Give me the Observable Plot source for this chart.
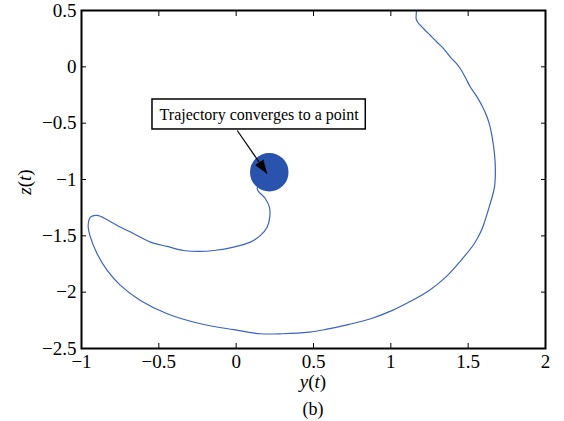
<!DOCTYPE html>
<html><head><meta charset="utf-8">
<script src="https://cdn.jsdelivr.net/npm/d3@7"></script>
<script src="https://cdn.jsdelivr.net/npm/@observablehq/plot@0.6"></script>
<style>
body{margin:0;background:#fff}
</style>
</head><body><div id="chart"></div>
<script>
// trajectory (y(t), z(t))
const trajY = [1.166,1.164,1.164,1.174,1.211,1.256,1.301,1.342,1.385,1.418,1.450,1.482,1.515,1.558,1.592,1.623,1.641,1.655,1.670,1.676,1.670,1.650,1.629,1.605,1.581,1.539,1.463,1.355,1.248,1.118,1.010,0.870,0.731,0.579,0.472,0.299,0.157,-0.016,-0.231,-0.446,-0.619,-0.748,-0.834,-0.899,-0.946,-0.957,-0.942,-0.899,-0.834,-0.769,-0.662,-0.554,-0.446,-0.339,-0.231,-0.145,-0.016,0.092,0.157,0.200,0.217,0.215,0.189,0.136,0.175,0.214];
const trajZ = [0.500,0.465,0.426,0.396,0.340,0.278,0.216,0.160,0.086,0.039,-0.017,-0.095,-0.181,-0.269,-0.352,-0.447,-0.529,-0.624,-0.769,-0.920,-1.068,-1.180,-1.275,-1.381,-1.467,-1.570,-1.703,-1.867,-1.985,-2.088,-2.162,-2.236,-2.286,-2.331,-2.355,-2.369,-2.369,-2.333,-2.280,-2.191,-2.073,-1.940,-1.807,-1.659,-1.496,-1.408,-1.334,-1.319,-1.357,-1.408,-1.481,-1.556,-1.594,-1.630,-1.638,-1.630,-1.600,-1.556,-1.496,-1.423,-1.334,-1.245,-1.171,-1.082,-1.000,-0.935];
// limit point (dense spiral region)
const limitY = [0.214];
const limitZ = [-0.935];
// annotation
const noteText = ["Trajectory converges to a point"];
const noteBoxY = [-0.541, 0.838];
const noteBoxZ = [-0.29, -0.556];
const arrowFromTo = [[0.007, -0.565], [0.200, -0.949]];
// ticks
const xTicks = [-1, -0.5, 0, 0.5, 1, 1.5, 2];
const yTicks = [-2.5, -2, -1.5, -1, -0.5, 0, 0.5];
const fmt = d => (d < 0 ? "\u2212" : "") + Math.abs(d);

const lineColor = "#3a63c4";
const blobColor = "#2953ac";

const traj = trajY.map((v, i) => ({y: v, z: trajZ[i]}));
const limit = limitY.map((v, i) => ({y: v, z: limitZ[i]}));

const filledArrow = (color) => {
  const m = d3.create("svg:marker")
    .attr("viewBox", "-5 -5 10 10")
    .attr("markerUnits", "userSpaceOnUse")
    .attr("markerWidth", 14)
    .attr("markerHeight", 14)
    .attr("refX", 5)
    .attr("orient", "auto")
    .attr("fill", "black")
    .attr("stroke", "none");
  m.append("path").attr("d", "M-5,-3.6L5,0L-5,3.6Z");
  return m.node();
};

const chart = Plot.plot({
  width: 564, height: 421,
  marginLeft: 81, marginRight: 19, marginTop: 10, marginBottom: 73,
  x: {domain: [-1, 2]},
  y: {domain: [-2.5, 0.5]},
  style: {fontFamily: "Liberation Serif, Times New Roman, serif", fontSize: "19px", color: "black", background: "white"},
  marks: [
    Plot.line(traj, {x: "y", y: "z", stroke: lineColor, strokeWidth: 1.2, curve: "catmull-rom"}),
    Plot.dot(limit, {x: "y", y: "z", r: 18.5, fill: blobColor, stroke: blobColor}),
    Plot.rect([0], {x1: () => noteBoxY[0], x2: () => noteBoxY[1], y1: () => noteBoxZ[0], y2: () => noteBoxZ[1], fill: "white", stroke: "black", strokeWidth: 1.5}),
    Plot.text(noteText, {x: (noteBoxY[0] + noteBoxY[1]) / 2, y: (noteBoxZ[0] + noteBoxZ[1]) / 2, text: d => d, fontSize: 16, fill: "black"}),
    Plot.link([arrowFromTo], {x1: d => d[0][0], y1: d => d[0][1], x2: d => d[1][0], y2: d => d[1][1], stroke: "black", strokeWidth: 1.2, markerEnd: filledArrow}),
    Plot.axisX({anchor: "bottom", ticks: xTicks, tickFormat: fmt, tickSize: -5, tickPadding: 11, label: null}),
    Plot.axisX({anchor: "top", ticks: xTicks, tickSize: -5, tickFormat: () => "", label: null}),
    Plot.axisY({anchor: "left", ticks: yTicks, tickFormat: fmt, tickSize: -5, tickPadding: 10, label: null}),
    Plot.axisY({anchor: "right", ticks: yTicks, tickSize: -5, tickFormat: () => "", label: null}),
    Plot.frame({stroke: "black", strokeWidth: 2})
  ]
});

const svg = d3.select(chart);
const xs = chart.scale("x"), ys = chart.scale("y");
const cx = xs.apply(0.5);
const xl = svg.append("text").attr("x", cx).attr("y", 388).attr("text-anchor", "middle").attr("font-size", 19).attr("fill", "black");
xl.append("tspan").attr("font-style", "italic").text("y");
xl.append("tspan").text("(");
xl.append("tspan").attr("font-style", "italic").text("t");
xl.append("tspan").text(")");
svg.append("text").attr("x", cx).attr("y", 415).attr("text-anchor", "middle").attr("font-size", 18).attr("fill", "black").text("(b)");
const cy = (ys.apply(0.5) + ys.apply(-2.5)) / 2 + 3;
const yl = svg.append("text").attr("transform", `translate(31,${cy}) rotate(-90)`).attr("text-anchor", "middle").attr("font-size", 19).attr("fill", "black");
yl.append("tspan").attr("font-style", "italic").text("z");
yl.append("tspan").text("(");
yl.append("tspan").attr("font-style", "italic").text("t");
yl.append("tspan").text(")");

document.getElementById("chart").appendChild(chart);
</script>
</body></html>
